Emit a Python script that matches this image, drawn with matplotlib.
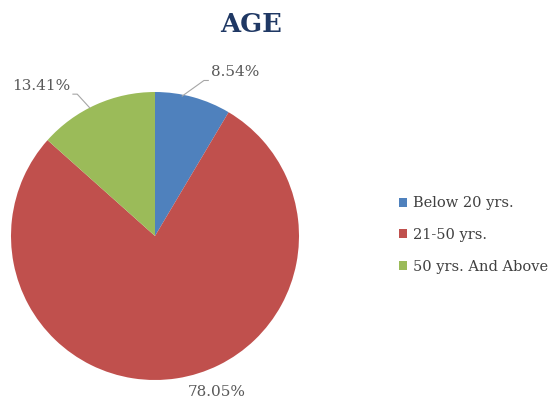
import matplotlib.pyplot as plt
import numpy as np

categories = ["Below 20 yrs.", "21-50 yrs.", "50 yrs. And Above"]
shares = [8.54, 78.05, 13.41]
colors = ["#4F81BD", "#C0504D", "#9BBB59"]

plt.rcParams["font.family"] = ["DejaVu Serif"]

fig = plt.figure(figsize=(5.58, 4.04), dpi=100)

# pie centre ~ (155, 236) px, radius ~144 px
r_px = 144
ax = fig.add_axes([(155 - r_px) / 558, (404 - 236 - r_px) / 404,
                   2 * r_px / 558, 2 * r_px / 404])
wedges, _ = ax.pie(shares, colors=colors, startangle=90, counterclock=False,
                   radius=1, wedgeprops=dict(linewidth=0))
ax.set_xlim(-1, 1)
ax.set_ylim(-1, 1)
ax.set_aspect("equal")
ax.axis("off")

# label placement: (edge angle for leader, text position, draw leader)
label_pos = [((79, 0.99), (0.56, 1.14), True),
             ((-68, 1.0), (0.43, -1.085), False),
             ((117, 1.0), (-0.79, 1.045), True)]
for w, val, (edge, txt, leader) in zip(wedges, shares, label_pos):
    ang, rr = edge
    ex, ey = rr * np.cos(np.radians(ang)), rr * np.sin(np.radians(ang))
    ax.text(txt[0], txt[1], f"{val:.2f}%", ha="center", va="center",
            fontsize=11, color="#595959", clip_on=False)
    if leader:
        if txt[0] > 0:
            lx = txt[0] - 0.22
        else:
            lx = txt[0] + 0.25
        ax.plot([ex, lx, lx + (0.03 if txt[0] > 0 else -0.03)],
                [ey, txt[1] - 0.06, txt[1] - 0.06],
                color="#A6A6A6", linewidth=0.8, clip_on=False)

fig.text(251 / 558, 1 - 25 / 404, "AGE", ha="center", va="center",
         fontsize=18.5, fontweight="bold", color="#1F3864")

leg = fig.legend(wedges, categories, loc="center left",
                 bbox_to_anchor=(386 / 558, 1 - 235 / 404), frameon=False,
                 fontsize=10.5, handlelength=0.55, handleheight=0.55,
                 handletextpad=0.4, labelspacing=1.2)
for t in leg.get_texts():
    t.set_color("#404040")

fig.savefig("out.png", dpi=100)
